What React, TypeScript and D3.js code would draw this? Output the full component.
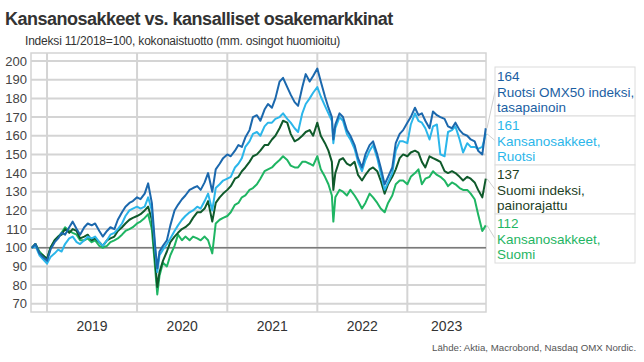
import React from "react";
import * as d3 from "d3";

const dates: string[] = [
  "2018-11-01","2018-11-15","2018-12-01","2018-12-15",
  "2019-01-01","2019-01-15","2019-02-01","2019-02-15","2019-03-01","2019-03-15","2019-04-01","2019-04-15",
  "2019-05-01","2019-05-15","2019-06-01","2019-06-15","2019-07-01","2019-07-15","2019-08-01","2019-08-15",
  "2019-09-01","2019-09-15","2019-10-01","2019-10-15","2019-11-01","2019-11-15","2019-12-01","2019-12-15",
  "2020-01-01","2020-01-15","2020-02-01","2020-02-15","2020-03-01","2020-03-15","2020-03-23","2020-04-01","2020-04-15",
  "2020-05-01","2020-05-15","2020-06-01","2020-06-15","2020-07-01","2020-07-15","2020-08-01","2020-08-15",
  "2020-09-01","2020-09-15","2020-10-01","2020-10-15","2020-11-01","2020-11-15","2020-12-01","2020-12-15",
  "2021-01-01","2021-01-15","2021-02-01","2021-02-15","2021-03-01","2021-03-15","2021-04-01","2021-04-15",
  "2021-05-01","2021-05-15","2021-06-01","2021-06-15","2021-07-01","2021-07-15","2021-08-01","2021-08-15",
  "2021-09-01","2021-09-15","2021-10-01","2021-10-15","2021-11-01","2021-11-15","2021-12-01","2021-12-15",
  "2022-01-01","2022-01-15","2022-02-01","2022-02-15","2022-03-01","2022-03-07","2022-03-15","2022-04-01","2022-04-15",
  "2022-05-01","2022-05-15","2022-06-01","2022-06-15","2022-07-01","2022-07-15","2022-08-01","2022-08-15",
  "2022-09-01","2022-09-15","2022-10-01","2022-10-15","2022-11-01","2022-11-15","2022-12-01","2022-12-15",
  "2023-01-01","2023-01-15","2023-02-01","2023-02-15","2023-03-01","2023-03-15","2023-04-01","2023-04-15",
  "2023-05-01","2023-05-15","2023-06-01","2023-06-15","2023-07-01","2023-07-15","2023-08-01","2023-08-15",
  "2023-09-01","2023-09-15","2023-10-01","2023-10-15","2023-11-01","2023-11-15",
];

const ruotsiOmx: number[] = [
  100,102,97,95,
  93,99,103,105,108,107,111,114,110,107,111,113,112,113,109,106,109,111,110,115,119,122,124,125,
  127,126,129,134.5,124,100,89,98,101,104,112,120,123,126,128,131,132,133,131,135,140,130,142,145,148,
  150,149,152,155,154,159,163,170,171,168,174,177,175,180,189,191,186,182,178,176,186,193,189,192,
  196,189,181,175,170,158,166,172,170,163,160,155,148,143,150,155,157,150,143,134,138,143,156,161,163,
  167,170,175,171,172,168,164,173,171,170,169,165,164,167,163,161,160,158,157,152,150,164,
];

const kansaRuotsi: number[] = [
  100,101,96,94,
  91.5,95,97,99,98,102,105,106,103,102,104,106,105,106,103,101,104,107,108,110,113,117,120,121,
  122,121,122,127,120,98,87,96,99,102,105,109,112,115,117,119,120,122,121,125,129,120,132,134,136,
  137,138,143,145,148,154,157,161,162,160,165,167,167,169,170,172,169,167,164,162,172,177,180,183,
  186,181,176,172,168,156,164,170,168,161,158,153,146,141,147,152,155,148,140,131,135,140,152,157,157,
  156,166,172,168,167,164,158,165,166,150,149,162,163,165,158,151,156,154,154,153,154,161,
];

const suomiIndeksi: number[] = [
  100,102,97,96,
  94,100,104,106,107,110,108,110,109,105,106,107,104,105,103,101,104,105,106,109,111,113,115,116,
  117,118,120,122,115,92,79,87,93,98,103,106,108,110,111,113,116,119,119,121,125,114,124,127,129,
  131,133,137,138,141,143,146,149,150,152,155,155,158,160,164,168,167,161,157,158,160,162,163,160,
  167,160,156,152,146,131,140,147,148,145,144,146,139,136,139,142,143,141,136,129,134,138,142,148,150,
  149,151,152,151,146,143,149,148,147,146,141,140,141,140,138,136,138,137,135,131,127,137,
];

const kansaSuomi: number[] = [
  100,102,98,96,
  94,100,104,106,108,111,109,108,107,104,104,105,103,104,101,100,101,103,104,105,107,109,110,111,
  113,114,116,118,110,88,75,85,92,90,96,101,107,104,106,104,106,105,104,106,104,97,113,115,116,
  117,119,123,124,127,128,131,132,134,137,141,142,143,145,147,149,147,144,143,143,146,146,145,144,
  149,142,138,134,128,114,127,131,130,128,131,128,125,121,124,129,127,124,121,119,124,128,134,136,136,
  134,138,140,142,134,137,138,141,139,138,136,133,135,134,132,131,131,129,126,118,109,112,
];

const seriesNames: string[][] = [
  ["Ruotsi OMX50 indeksi,", "tasapainoin"],
  ["Kansanosakkeet,", "Ruotsi"],
  ["Suomi indeksi,", "painorajattu"],
  ["Kansanosakkeet,", "Suomi"],
];
const lineColors = ["#1b68ad", "#2bb6ea", "#0f5a2b", "#1fb563"];
const textColors = ["#1b5fa3", "#2bb6ea", "#1d3f1f", "#1fb563"];

const yTicks: number[] = [70, 80, 90, 100, 110, 120, 130, 140, 150, 160, 170, 180, 190, 200];
const years: number[] = [2019, 2020, 2021, 2022, 2023];

const title = "Kansanosakkeet vs. kansalliset osakemarkkinat";
const subtitle = "Indeksi 11/2018=100, kokonaistuotto (mm. osingot huomioitu)";
const source = "Lähde: Aktia, Macrobond, Nasdaq OMX Nordic.";

const W = 644, H = 362;
const L = 31, R = 486, T = 53, B = 312;
const FONT = "'Liberation Sans', Arial, sans-serif";

export default function App() {
  const parse = d3.timeParse("%Y-%m-%d");
  const dts = dates.map((d) => parse(d) as Date);
  const x = d3.scaleTime().domain([parse("2018-11-01") as Date, parse("2023-11-16") as Date]).range([L + 1, R]);
  const y = d3.scaleLinear().domain([65.6, 204.3]).range([B, T]);
  const all = [ruotsiOmx, kansaRuotsi, suomiIndeksi, kansaSuomi];
  const line = d3.line<number>().x((_, i) => x(dts[i])).y((v) => y(v));
  const order = [3, 2, 1, 0];
  const boxTop = 67, boxH = 49, boxX = 495, boxW = 140;
  const yearLines = years.map((yr) => x(new Date(yr, 0, 1)));
  return (
    <svg width={W} height={H} style={{ position: "absolute", left: 0, top: 0, background: "#fff" }} fontFamily={FONT}>
      <rect x={0} y={0} width={W} height={H} fill="#fff" />
      <text x={5} y={25} fontSize={18} fontWeight="bold" fill="#333" letterSpacing={-0.5}>{title}</text>
      <text x={25} y={45} fontSize={12} fill="#333" letterSpacing={-0.2}>{subtitle}</text>
      {yTicks.map((t) => (
        <line key={"g" + t} x1={L} x2={R} y1={y(t)} y2={y(t)} stroke="#d4d4d4" strokeWidth={2} />
      ))}
      {yearLines.map((xx, i) => (
        <line key={"v" + i} x1={xx} x2={xx} y1={T} y2={B} stroke="#d4d4d4" strokeWidth={2} />
      ))}
      <rect x={L} y={T} width={R - L} height={B - T} fill="none" stroke="#d4d4d4" strokeWidth={1.5} />
      <line x1={L} x2={R} y1={y(100)} y2={y(100)} stroke="#7a7a7a" strokeWidth={1.5} />
      {yTicks.map((t) => (
        <text key={"t" + t} x={27} y={y(t) + 4.5} fontSize={13} fill="#444" textAnchor="end">{t}</text>
      ))}
      {years.map((yr) => {
        const a = Math.max(L, x(new Date(yr, 0, 1)));
        const b = Math.min(R, x(new Date(yr + 1, 0, 1)));
        return (
          <text key={"y" + yr} x={(a + b) / 2} y={331} fontSize={14} fill="#333" textAnchor="middle">{yr}</text>
        );
      })}
      {order.map((si) => (
        <path key={"s" + si} d={line(all[si]) || ""} fill="none" stroke={lineColors[si]} strokeWidth={2} strokeLinejoin="round" />
      ))}
      {all.map((s, i) => {
        const top = boxTop + i * boxH;
        const last = s[s.length - 1];
        return (
          <g key={"l" + i}>
            <line x1={R + 1} y1={y(last)} x2={boxX} y2={top + boxH / 2} stroke="#cfcfcf" strokeWidth={1} />
            <rect x={boxX} y={top} width={boxW} height={boxH} fill="#fff" stroke="#dcdcdc" strokeWidth={1} />
            <text x={boxX + 2} y={top + 14} fontSize={13.5} fill={textColors[i]}>{d3.format(".0f")(last)}</text>
            <text x={boxX + 2} y={top + 29.5} fontSize={13.5} fill={textColors[i]}>{seriesNames[i][0]}</text>
            <text x={boxX + 2} y={top + 44.5} fontSize={13.5} fill={textColors[i]}>{seriesNames[i][1]}</text>
          </g>
        );
      })}
      <text x={432} y={350.5} fontSize={9.7} fill="#555">{source}</text>
    </svg>
  );
}
